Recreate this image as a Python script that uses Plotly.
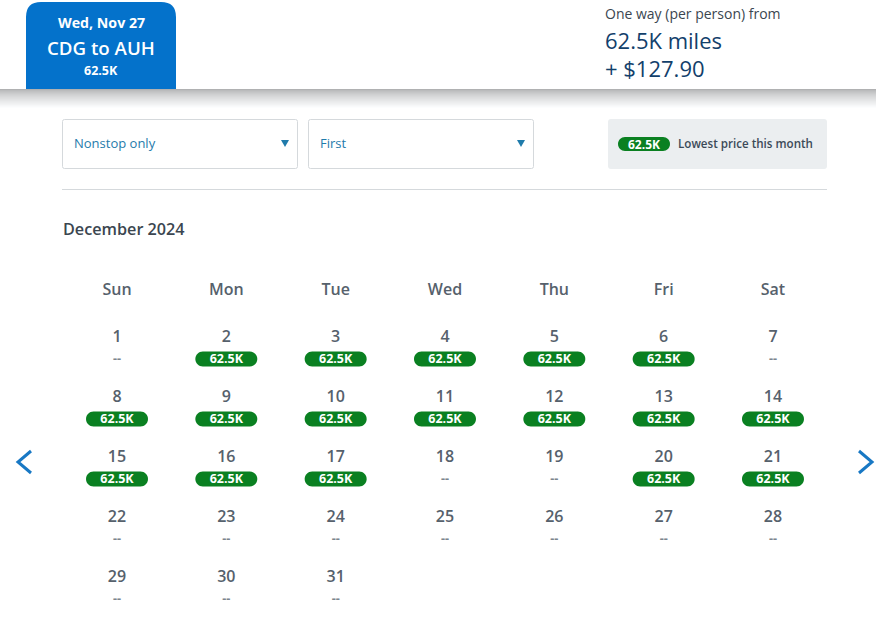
import plotly.graph_objects as go

W, H = 876, 634
FONT = "Open Sans"

weekdays = ["Sun", "Mon", "Tue", "Wed", "Thu", "Fri", "Sat"]
days = list(range(1, 32))
prices = ["--", "62.5K", "62.5K", "62.5K", "62.5K", "62.5K", "--",
          "62.5K", "62.5K", "62.5K", "62.5K", "62.5K", "62.5K", "62.5K",
          "62.5K", "62.5K", "62.5K", "--", "--", "62.5K", "62.5K",
          "--", "--", "--", "--", "--", "--", "--",
          "--", "--", "--"]

tab_lines = ["Wed, Nov 27", "CDG to AUH", "62.5K"]
header_lines = ["One way (per person) from", "62.5K miles", "+ $127.90"]
filters = ["Nonstop only", "First"]
month_title = "December 2024"
legend_price = "62.5K"
legend_text = "Lowest price this month"

GREEN = "#0a8021"
GREY = "#56616c"
DASH = "#7c858e"
BLUE = "#0472cb"
NAVY = "#12406b"
TEAL = "#1f7bab"

col = [(d - 1) % 7 for d in days]
row = [(d - 1) // 7 for d in days]
has_price = [p != "--" for p in prices]


# corner-rounded box as a path, pixels measured from the top left of the page
def box_path(x0, y0, x1, y1, r, square_bottom=False):
    t, b = -y0, -y1
    p = f"M{x0},{t - r} Q{x0},{t} {x0 + r},{t} L{x1 - r},{t} Q{x1},{t} {x1},{t - r} "
    if square_bottom:
        p += f"L{x1},{b} L{x0},{b} Z"
    else:
        p += f"L{x1},{b + r} Q{x1},{b} {x1 - r},{b} L{x0 + r},{b} Q{x0},{b} {x0},{b + r} Z"
    return p


def page_shape(path, fill, line=None):
    return dict(type="path", xref="paper", yref="paper", xsizemode="pixel", ysizemode="pixel",
                xanchor=0, yanchor=1, path=path, fillcolor=fill,
                line=dict(color=line or "rgba(0,0,0,0)", width=1 if line else 0), layer="below")


def page_text(x, y, text, size, color, weight=400, anchor="left"):
    return dict(xref="paper", yref="paper", x=x / W, y=1 - y / H, text=text, showarrow=False,
                xanchor=anchor, yanchor="middle",
                font=dict(family=FONT, size=size, color=color, weight=weight))


def pill(cx, cy, half_w, half_h, xref="x", yref="y"):
    c = half_h * 0.55
    inner = half_w - half_h
    path = (f"M{-inner},{half_h} L{inner},{half_h} "
            f"C{inner + c},{half_h} {half_w},{c} {half_w},0 "
            f"C{half_w},{-c} {inner + c},{-half_h} {inner},{-half_h} "
            f"L{-inner},{-half_h} "
            f"C{-inner - c},{-half_h} {-half_w},{-c} {-half_w},0 "
            f"C{-half_w},{c} {-inner - c},{half_h} {-inner},{half_h} Z")
    return dict(type="path", xref=xref, yref=yref, xsizemode="pixel", ysizemode="pixel",
                xanchor=cx, yanchor=cy, path=path, fillcolor=GREEN, line=dict(width=0), layer="below")


shapes = []

# shadow under the header
for i in range(20):
    level = int(176 + (255 - 176) * (i / 19) ** 0.7)
    shapes.append(page_shape(f"M0,{-89 - i} L{W},{-89 - i} L{W},{-90 - i} L0,{-90 - i} Z",
                             f"rgb({level},{level + 1},{level + 2})"))

shapes.append(page_shape(box_path(26, 2, 176, 89, 15, square_bottom=True), BLUE))
shapes.append(page_shape(box_path(62.5, 119.5, 297.5, 168.5, 2), "white", "#d5d9dc"))
shapes.append(page_shape(box_path(308.5, 119.5, 533.5, 168.5, 2), "white", "#d5d9dc"))
shapes.append(page_shape(box_path(608, 119, 827, 169, 3), "#ebeef0"))
shapes.append(page_shape("M62,-189 L827,-189 L827,-190 L62,-190 Z", "#d5d9dc"))

# dropdown arrows
for cx in (285, 521):
    shapes.append(page_shape(f"M{cx - 4},-140 L{cx + 4},-140 L{cx},-147 Z", TEAL))

# month navigation chevrons
for tip, back in ((18, 31), (872, 859)):
    shapes.append(dict(type="path", xref="paper", yref="paper", xsizemode="pixel", ysizemode="pixel",
                       xanchor=0, yanchor=1, path=f"M{back},-451 L{tip},-462 L{back},-473",
                       line=dict(color="#1878c4", width=3), fillcolor="rgba(0,0,0,0)"))

# legend pill
shapes.append(dict(pill(0, 0, 26, 7), xref="paper", yref="paper", xanchor=644 / W, yanchor=1 - 144 / H))

# price pills, one per priced day
for c, r, on in zip(col, row, has_price):
    if on:
        shapes.append(pill(c, r + 0.385, 31, 7.5))

annotations = [
    page_text(101, 22, tab_lines[0], 14.2, "white", 700, "center"),
    page_text(101, 48, tab_lines[1], 18.7, "white", 600, "center"),
    page_text(101, 71, tab_lines[2], 12.5, "white", 700, "center"),
    page_text(603, 14, header_lines[0], 14, "#3b4650"),
    page_text(603, 40, header_lines[1], 22, NAVY),
    page_text(603, 68, header_lines[2], 22, NAVY),
    page_text(72, 143, filters[0], 13, TEAL),
    page_text(318, 143, filters[1], 13, TEAL),
    page_text(644, 144, legend_price, 12, "white", 700, "center"),
    page_text(676, 143, legend_text, 11.6, "#3b4a58", 600),
    page_text(61, 229, month_title, 16.2, "#3b4650", 600),
]

fig = go.Figure()

fig.add_trace(go.Scatter(
    x=list(range(7)), y=[-0.75] * 7, mode="text", text=weekdays,
    textfont=dict(family=FONT, size=16, color=GREY, weight=600), hoverinfo="skip"))
fig.add_trace(go.Scatter(
    x=col, y=[r + 0.033 for r in row], mode="text", text=[str(d) for d in days],
    textfont=dict(family=FONT, size=16, color=GREY, weight=600), hoverinfo="skip"))
fig.add_trace(go.Scatter(
    x=col, y=[r + 0.4 for r in row], mode="text", text=prices,
    textfont=dict(family=FONT, size=12.5, weight=700,
                  color=["white" if on else DASH for on in has_price]),
    hoverinfo="skip"))

fig.update_layout(
    width=W, height=H, margin=dict(l=0, r=0, t=0, b=0),
    paper_bgcolor="white", plot_bgcolor="rgba(0,0,0,0)", showlegend=False,
    shapes=shapes, annotations=annotations,
    xaxis=dict(range=[-117 / 109.33, (W - 117) / 109.33], visible=False, fixedrange=True),
    yaxis=dict(range=[(H - 336) / 60, -336 / 60], visible=False, fixedrange=True),
)

fig.write_html("out.html", config={"displayModeBar": False},
               post_script="document.body.style.margin='0';document.body.style.overflow='hidden';")
